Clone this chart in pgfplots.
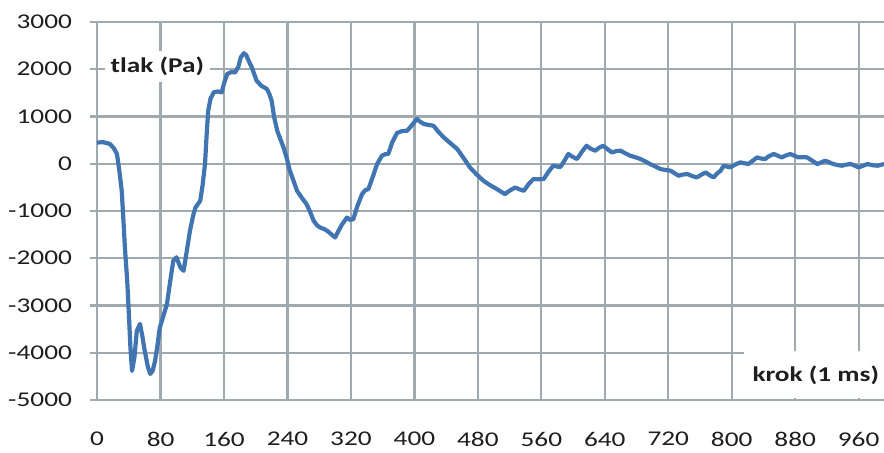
\documentclass[border=0pt]{standalone}
\usepackage{fontspec}
\setmainfont{Carlito}[FakeStretch=1.3]
\usepackage{pgfplots}
\pgfplotsset{compat=1.18}
\definecolor{gridc}{RGB}{160,168,176}
\definecolor{linec}{RGB}{64,117,178}
\definecolor{textc}{RGB}{30,30,30}
\begin{document}
\begin{tikzpicture}
\begin{axis}[
  scale only axis,
  width=397pt, height=189pt,
  xmin=-9, xmax=992,
  ymin=-5000, ymax=3000,
  xtick={0,80,...,960},
  xticklabels={0,80,160,240,320,400,480,560,640,720,800,880,960},
  ytick={-5000,-4000,...,3000},
  yticklabels={-5000,-4000,-3000,-2000,-1000,0,1000,2000,3000},
  grid=major,
  major grid style={draw=gridc, line width=1.1pt},
  axis line style={draw=none},
  tick style={draw=none},
  ticklabel style={font=\fontsize{10.5}{12}\selectfont, text=textc},
  xticklabel style={yshift=-12.5pt},
  yticklabel style={xshift=-5.5pt},
  clip=true,
]
\addplot[linec, line width=2.1pt, line join=round] coordinates {
(0,450) (8,455) (16,420) (21,330) (25,205) (28,-150) (31,-572) (33,-1150) (35,-1773)
(38,-2500) (40,-3180) (42,-3900) (44,-4386) (47,-4100) (50,-3540) (54,-3390)
(57,-3650) (60,-3960) (64,-4300) (67,-4450) (70,-4380) (73,-4175) (76,-3850)
(79,-3470) (83,-3250) (88,-2970) (92,-2500) (96,-2055) (100,-1980) (105,-2197)
(109,-2267) (113,-1850) (117,-1420) (121,-1100) (124,-926) (130,-784) (133,-450)
(136,-6) (138,600) (140,1123) (143,1380) (147,1511) (152,1530) (157,1511)
(160,1700) (164,1900) (169,1940) (174,1935) (178,2050) (181,2250) (185,2340)
(188,2300) (191,2180) (195,2040) (201,1759) (207,1650) (214,1582) (217,1480)
(220,1335) (223,1000) (227,700) (231,520) (235,345) (239,120) (243,-148)
(248,-380) (252,-572) (258,-720) (264,-854) (268,-1000) (273,-1208) (277,-1300)
(281,-1350) (286,-1380) (290,-1420) (295,-1490) (300,-1561) (304,-1430)
(309,-1278) (315,-1138) (319,-1190) (323,-1172) (328,-900) (334,-642)
(338,-560) (342,-536) (347,-300) (353,-6) (359,170) (363,200) (367,206)
(372,450) (378,650) (384,690) (391,700) (397,820) (403,947) (408,880)
(412,841) (418,820) (424,805) (430,680) (437,557) (445,440) (454,311)
(462,120) (470,-78) (478,-220) (487,-360) (495,-450) (504,-536) (510,-600)
(514,-642) (520,-570) (527,-502) (532,-540) (538,-572) (544,-430) (550,-324)
(556,-330) (563,-324) (569,-170) (575,-42) (580,-60) (584,-70) (589,60)
(594,206) (599,150) (605,100) (611,250) (617,381) (622,320) (628,275)
(633,340) (638,381) (644,300) (649,240) (655,270) (660,275) (666,220)
(672,170) (678,140) (685,100) (691,50) (697,-6) (704,-60) (710,-112)
(716,-130) (723,-148) (728,-200) (733,-254) (738,-230) (744,-218) (750,-260)
(756,-290) (762,-230) (767,-184) (772,-240) (777,-290) (782,-200) (786,-148)
(790,-42) (794,-60) (798,-78) (804,-20) (811,28) (816,10) (821,-6) (827,70)
(832,134) (837,110) (842,100) (847,160) (853,206) (858,170) (863,134)
(869,180) (874,206) (879,170) (884,134) (890,140) (895,134) (901,70)
(908,-6) (913,30) (918,64) (923,30) (928,-6) (934,-30) (939,-42) (944,-20)
(950,-6) (955,-40) (960,-78) (966,-40) (971,-6) (977,-30) (984,-42) (992,-6)
};
\fill[white] (axis cs:815,-3960) rectangle (axis cs:1000,-4960);
\node[fill=white, inner xsep=3pt, inner ysep=3pt, font=\fontsize{10.5}{12}\selectfont\bfseries, text=textc] at (axis cs:76,2060) {tlak (Pa)};
\node[font=\fontsize{10.5}{12}\selectfont\bfseries, text=textc] at (axis cs:906,-4480) {krok (1 ms)};
\end{axis}
\pgfresetboundingbox
\path[use as bounding box] ([shift={(-45pt,-26.5pt)}]current axis.south west) rectangle ([shift={(0pt,11pt)}]current axis.north east);
\end{tikzpicture}
\end{document}
